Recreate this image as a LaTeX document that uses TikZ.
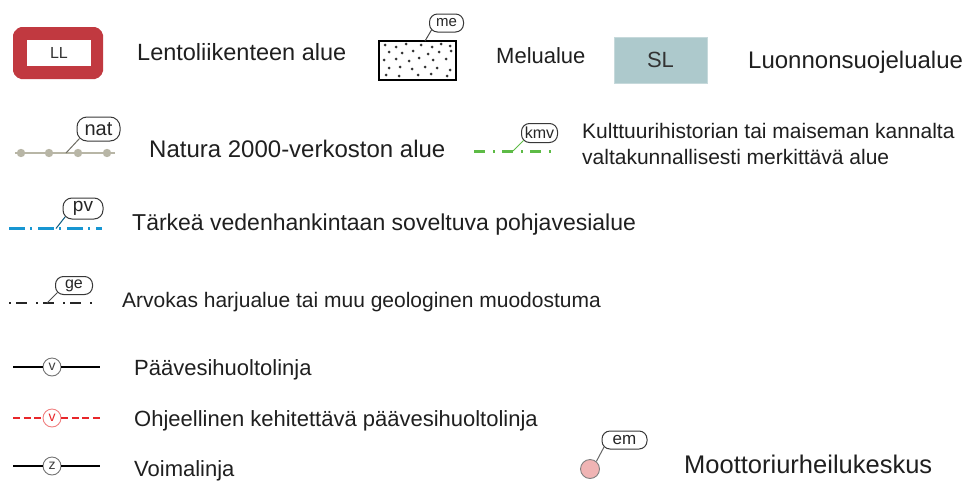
\documentclass[tikz,border=0pt]{standalone}
\usepackage{fontspec}
\setmainfont{Liberation Sans}
\definecolor{llred}{RGB}{193,57,64}
\definecolor{slfill}{RGB}{173,201,204}
\definecolor{natcol}{RGB}{184,182,166}
\definecolor{kmvgreen}{RGB}{93,187,70}
\definecolor{pvblue}{RGB}{23,150,210}
\definecolor{vred}{RGB}{232,38,42}
\definecolor{vredlight}{RGB}{240,128,128}
\definecolor{emfill}{RGB}{240,180,180}
\begin{document}
\begin{tikzpicture}[x=1pt,y=-1pt,
  lbl/.style={anchor=base west,inner sep=0pt,text=black!88},
  bub/.style={draw=black!78,line width=1pt,rounded corners=8pt,inner sep=0pt,fill=white,text=black!85},
  ring/.style={circle,draw=black!55,line width=0.9pt,minimum size=18pt,inner sep=0pt,font=\fontsize{14}{14}\selectfont,text=black!75},
  leader/.style={line width=1pt,draw=black!70},
  medot/.style={fill=black!80}]
\useasboundingbox (0,0) rectangle (965,482);

% --- LL
\fill[llred,rounded corners=2pt] (19,27) -- (97,27) -- (103,33) -- (103,73) -- (97,79) -- (19,79) -- (13,73) -- (13,33) -- cycle;
\node[fill=white,minimum width=64pt,minimum height=26pt,inner sep=0pt,font=\fontsize{16}{16}\selectfont,text=black!80] (ll) at (59,53) {LL};
\node[lbl,font=\fontsize{23.5}{28}\selectfont] (lltxt) at (137,60) {Lentoliikenteen alue};

% --- me
\node[draw=black,line width=2pt,minimum width=77pt,minimum height=39pt,inner sep=0pt] (mebox) at (417.5,60) {};
\foreach \p in {(385,45),(396,47),(406,44),(421,45),(432,47),(441,44),(450,46),
                (389,52),(402,53),(413,51),(428,54),(439,52),(451,51),
                (384,60),(396,59),(409,61),(419,58),(433,60),(446,59),
                (389,68),(400,67),(412,69),(425,67),(437,68),(450,70),
                (386,75),(399,76),(418,75),(431,74),(447,76)}
  \fill[medot] \p circle (1.5pt);
\node[bub,minimum width=34pt,minimum height=18pt,font=\fontsize{15}{15}\selectfont] (mebub) at (446.5,23) {me};
\coordinate (meA) at (425,41);
\draw[leader] (meA) -- ([xshift=2.5pt,yshift=2.5pt]mebub.south west);
\node[lbl,font=\fontsize{22}{26}\selectfont] (metxt) at (496,63) {Melualue};

% --- SL
\node[fill=slfill,draw=slfill!70!white,line width=0.8pt,minimum width=93pt,minimum height=46pt,inner sep=0pt,font=\fontsize{22}{22}\selectfont,text=black!80] (sl) at (660.5,60) {SL};
\node[lbl,font=\fontsize{24}{28}\selectfont] (sltxt) at (748,68) {Luonnonsuojelualue};

% --- nat
\coordinate (natL) at (15,153);
\coordinate (natR) at (115,153);
\draw[natcol,line width=2pt] (natL) -- (natR);
\foreach \x in {21,49,78,107} \fill[natcol] (\x,153) circle (4.2pt);
\node[bub,rounded corners=10pt,minimum width=43pt,minimum height=24pt,font=\fontsize{20}{20}\selectfont] (natbub) at (98.5,129) {nat};
\coordinate (natA) at (66,153);
\draw[leader,draw=natcol!60!black] (natA) -- ([xshift=3pt,yshift=3pt]natbub.south west);
\node[lbl,font=\fontsize{24}{28}\selectfont] (nattxt) at (149,157) {Natura 2000-verkoston alue};

% --- kmv
\coordinate (kmvL) at (474,151);
\coordinate (kmvR) at (551,151);
\draw[kmvgreen,line width=3pt,dash pattern=on 11pt off 8pt on 2pt off 7pt] (kmvL) -- (kmvR);
\node[bub,minimum width=36pt,minimum height=19pt,font=\fontsize{16}{16}\selectfont] (kmvbub) at (539.5,133) {kmv};
\coordinate (kmvA) at (513,151);
\draw[leader,draw=kmvgreen] (kmvA) -- ([xshift=2.5pt,yshift=2.5pt]kmvbub.south west);
\node[lbl,align=left,anchor=north west,font=\fontsize{21}{26}\selectfont] (kmvtxt) at (582,123) {Kulttuurihistorian tai maiseman kannalta\\valtakunnallisesti merkittävä alue};

% --- pv
\coordinate (pvL) at (9,228.5);
\coordinate (pvR) at (102,228.5);
\draw[pvblue,line width=3.5pt,dash pattern=on 16pt off 5pt on 2pt off 6pt] (pvL) -- (pvR);
\node[bub,rounded corners=9pt,minimum width=40pt,minimum height=21pt,font=\fontsize{19}{19}\selectfont] (pvbub) at (83,208.5) {pv};
\coordinate (pvA) at (56,228.5);
\draw[leader,draw=pvblue!60!black] (pvA) -- ([xshift=2.7pt,yshift=2.7pt]pvbub.south west);
\node[lbl,font=\fontsize{23}{27}\selectfont] (pvtxt) at (132,230) {Tärkeä vedenhankintaan soveltuva pohjavesialue};

% --- ge
\coordinate (geL) at (9,303);
\coordinate (geR) at (92,303);
\draw[black!85,line width=2pt,dash pattern=on 2pt off 5pt on 11pt off 9pt] (geL) -- (geR);
\node[bub,minimum width=37pt,minimum height=18pt,font=\fontsize{16}{16}\selectfont] (gebub) at (74,285.5) {ge};
\coordinate (geA) at (47,303);
\draw[leader] (geA) -- ([xshift=2.5pt,yshift=2.5pt]gebub.south west);
\node[lbl,font=\fontsize{21}{25}\selectfont] (getxt) at (122,307) {Arvokas harjualue tai muu geologinen muodostuma};

% --- v (black)
\coordinate (v1L) at (13,367);
\coordinate (v1R) at (100,367);
\node[ring] (v1) at (52,367) {v};
\draw[black,line width=1.3pt] (v1L) -- (v1.west);
\draw[black,line width=1.3pt] (v1.east) -- (v1R);
\node[lbl,font=\fontsize{22}{26}\selectfont] (v1txt) at (134,375) {Päävesihuoltolinja};

% --- v (red dashed)
\coordinate (v2L) at (13,418);
\coordinate (v2R) at (100,418);
\node[ring,draw=vredlight,text=vred] (v2) at (52,418) {v};
\draw[vred,line width=1.6pt,dash pattern=on 7pt off 3.5pt] (v2L) -- (v2.west);
\draw[vred,line width=1.6pt,dash pattern=on 7pt off 3.5pt] (v2.east) -- (v2R);
\node[lbl,font=\fontsize{22}{26}\selectfont] (v2txt) at (134,426) {Ohjeellinen kehitettävä päävesihuoltolinja};

% --- z
\coordinate (zL) at (13,466);
\coordinate (zR) at (100,466);
\node[ring] (z) at (52,466) {z};
\draw[black,line width=1.3pt] (zL) -- (z.west);
\draw[black,line width=1.3pt] (z.east) -- (zR);
\node[lbl,font=\fontsize{22}{26}\selectfont] (ztxt) at (134,476) {Voimalinja};

% --- em
\node[circle,fill=emfill,draw=black!50,line width=0.9pt,minimum size=19pt,inner sep=0pt] (emc) at (590,469) {};
\node[bub,minimum width=45pt,minimum height=18pt,font=\fontsize{17}{17}\selectfont] (embub) at (624.5,440) {em};
\draw[leader,draw=black!60] (emc.50) -- ([xshift=2.5pt,yshift=2.5pt]embub.south west);
\node[lbl,font=\fontsize{25.5}{30}\selectfont] (emtxt) at (684,473) {Moottoriurheilukeskus};
\end{tikzpicture}
\end{document}
